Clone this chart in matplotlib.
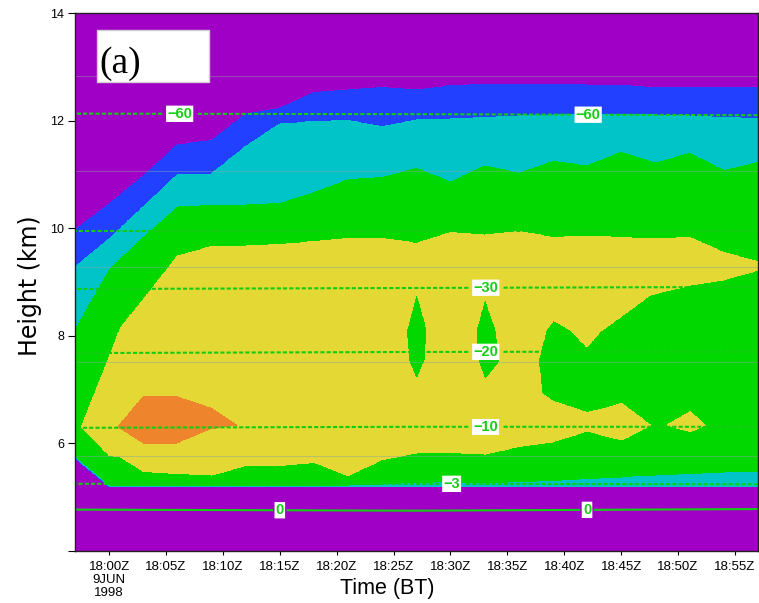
import numpy as np
import matplotlib.pyplot as plt
from matplotlib.patches import Rectangle

# minutes after 18:00Z 9 Jun 1998, 3-minute output
times = np.arange(-3, 58, 3)

# echo column boundaries (km), one value per output time
echo_base = [5.72, 5.19, 5.19, 5.19, 5.19, 5.19, 5.19, 5.19, 5.19, 5.19, 5.19,
             5.19, 5.19, 5.19, 5.19, 5.19, 5.19, 5.19, 5.19, 5.19, 5.19]
cyan_base_top = [5.77, 5.23, 5.23, 5.23, 5.23, 5.23, 5.23, 5.23, 5.23, 5.25, 5.27,
                 5.29, 5.26, 5.29, 5.31, 5.35, 5.38, 5.41, 5.44, 5.47, 5.49]
green_top = [8.11, 9.22, 9.83, 10.39, 10.42, 10.43, 10.46, 10.66, 10.90, 10.94, 11.11,
             10.86, 11.16, 11.02, 11.24, 11.16, 11.41, 11.21, 11.39, 11.07, 11.22]
cyan_top = [9.28, 9.80, 10.40, 10.99, 11.01, 11.52, 11.94, 11.98, 12.00, 11.89, 12.01,
            12.03, 12.06, 12.09, 12.10, 12.12, 12.11, 12.10, 12.09, 12.06, 12.04]
blue_top = [9.97, 10.45, 10.97, 11.55, 11.63, 12.12, 12.23, 12.52, 12.57, 12.62, 12.57,
            12.65, 12.67, 12.68, 12.68, 12.66, 12.65, 12.62, 12.62, 12.62, 12.62]

# yellow core
yel_t = [-2.43, 0, 1, 3, 6, 9, 12, 15, 18, 21, 24, 27, 30, 33, 36, 39, 42, 45.07,
         47.56, 51, 54, 57]
yel_lo = [6.31, 5.78, 5.75, 5.48, 5.44, 5.41, 5.59, 5.59, 5.65, 5.40, 5.70, 5.82,
          5.83, 5.80, 5.94, 6.03, 6.23, 6.06, 6.34, 6.34, 6.34, 6.34]
yel_hi = [6.31, 7.60, 8.15, 8.67, 9.48, 9.66, 9.67, 9.70, 9.75, 9.81, 9.81, 9.72,
          9.92, 9.87, 9.94, 9.83, 9.86, 9.83, 9.80, 9.83, 9.55, 9.38]

# orange maximum
orange_t = [0.79, 3.0, 5.93, 9.0, 11.2]
orange_lo = [6.31, 6.01, 6.01, 6.28, 6.34]
orange_hi = [6.31, 6.87, 6.87, 6.65, 6.34]

# weaker pockets inside the core
hole1_t = [26.16, 26.30, 27.04, 27.77, 27.92]
hole1_lo = [8.11, 7.55, 7.18, 7.55, 8.11]
hole1_hi = [8.11, 8.23, 8.80, 8.25, 8.11]
hole2_t = [32.26, 32.45, 33.04, 34.0, 34.36]
hole2_lo = [8.11, 7.52, 7.18, 7.43, 7.52]
hole2_hi = [8.11, 8.25, 8.70, 8.11, 7.52]

blob_t = [37.73, 38.03, 38.41, 39.05, 40.52, 41.99, 43.16, 45.07, 47.56, 51.08, 54.0, 57.0]
blob_lo = [7.55, 6.93, 6.87, 6.78, 6.68, 6.57, 6.63, 6.74, 6.34, 5.6, 5.6, 5.6]
blob_hi = [7.55, 7.80, 8.11, 8.29, 8.11, 7.79, 8.08, 8.37, 8.76, 8.94, 9.04, 9.22]

patch_t = [49.02, 51.08, 52.39]
patch_lo = [6.34, 6.22, 6.34]
patch_hi = [6.34, 6.59, 6.34]

# isotherm heights (km)
iso_levels = [-60, -40, -30, -20, -10, -3, 0]
iso_times = [-3, 27, 57]
iso_h_early = [12.13, 9.95, 8.87, 7.68, 6.29, 5.25, 4.77]
iso_h_mid = [12.12, 9.95, 8.89, 7.70, 6.31, 5.25, 4.75]
iso_h_late = [12.10, 9.95, 8.91, 7.71, 6.31, 5.24, 4.78]

# model level heights (km)
level_km = [12.83, 11.06, 9.28, 7.52, 5.77]

band_colors = ['#a000c6', '#2140ff', '#00c4c8', '#00d800', '#e4d934', '#ee842c']

tf = np.linspace(-3, 57, 1201)
hf = np.linspace(4, 14, 1001)
H = hf[:, None]
field = np.zeros((hf.size, tf.size))


def paint(t_nodes, lo, hi, value):
    lo_f = np.interp(tf, t_nodes, lo, left=np.nan, right=np.nan)
    hi_f = np.interp(tf, t_nodes, hi, left=np.nan, right=np.nan)
    inside = (H >= lo_f[None, :]) & (H < hi_f[None, :])
    field[inside] = value


base = np.array(echo_base)
paint(times, base, blue_top, 1)
paint(times, base + 0.02, cyan_top, 2)
paint(times, cyan_base_top, green_top, 3)
paint(yel_t, yel_lo, yel_hi, 4)
paint(orange_t, orange_lo, orange_hi, 5)
paint(hole1_t, hole1_lo, hole1_hi, 3)
paint(hole2_t, hole2_lo, hole2_hi, 3)
paint(blob_t, blob_lo, blob_hi, 3)
paint(patch_t, patch_lo, patch_hi, 4)

# temperature field from isotherm heights
hh = np.linspace(4, 14, 401)


def temp_profile(hts):
    h = np.array(hts[::-1])
    T = np.array(iso_levels[::-1], float)
    out = np.interp(hh, h, T)
    s0 = (T[1] - T[0]) / (h[1] - h[0])
    s1 = (T[-1] - T[-2]) / (h[-1] - h[-2])
    out = np.where(hh < h[0], T[0] + s0 * (hh - h[0]), out)
    out = np.where(hh > h[-1], T[-1] + s1 * (hh - h[-1]), out)
    return out


temp = np.column_stack([temp_profile(a) for a in (iso_h_early, iso_h_mid, iso_h_late)])

fig = plt.figure(figsize=(7.59, 6.03), dpi=100)
ax = fig.add_axes([0.0988, 0.0862, 0.8995, 0.8922])
ax.set_facecolor(band_colors[0])

ax.contourf(tf, hf, field, levels=np.arange(-0.5, 6, 1), colors=band_colors)

for y in level_km:
    ax.axhline(y, color='#8aa0a8', alpha=0.45, lw=0.8)

line_green = '#14cc14'
styles = [(0, (2, 1))] * (len(iso_levels) - 1) + ['solid']
cs = ax.contour(iso_times, hh, temp, levels=iso_levels, colors=line_green,
                linewidths=1.5, linestyles=styles)
# label spots; the -40 line stays unlabelled
label_pos = [(6.2, 12.12), (42.1, 12.10), (33.1, 8.90), (33.1, 7.70),
             (33.1, 6.31), (30.1, 5.25), (15.0, 4.76), (42.0, 4.77)]
labels = cs.clabel(manual=label_pos, inline=True, inline_spacing=2,
                   fmt=lambda v: f'{v:.0f}'.replace('-', '\u2212'), fontsize=10.5)
for txt in labels:
    txt.set_fontweight('bold')
    txt.set_family('Liberation Sans')
    txt.set_bbox(dict(boxstyle='square,pad=0.08', fc='white', ec='none'))

# panel tag
ax.add_patch(Rectangle((0.032, 0.872), 0.165, 0.096, transform=ax.transAxes,
                       facecolor='white', edgecolor='#d0d0d0', lw=1, zorder=5))
ax.text(0.035, 0.874, '(a)', transform=ax.transAxes, ha='left', va='bottom',
        family='Liberation Serif', fontsize=27, zorder=6)

ax.set_xlim(-3, 57)
ax.set_ylim(4, 14)

xt = np.arange(0, 56, 5)
ax.set_xticks(xt)
ax.set_xticklabels(['18:00Z\n9JUN\n1998'] + [f'18:{m:02d}Z' for m in xt[1:]],
                   family='Liberation Sans', fontsize=9.5, linespacing=1.1, va='top')
ax.set_yticks([4, 6, 8, 10, 12, 14])
ax.set_yticklabels(['', '6', '8', '10', '12', '14'], family='Liberation Sans', fontsize=9)
ax.tick_params(axis='x', direction='out', length=3, width=0.8, pad=4)
ax.tick_params(axis='y', direction='out', length=5, width=0.8, pad=3)
for sp in ax.spines.values():
    sp.set_linewidth(1.0)
    sp.set_color('#222222')

ax.set_xlabel('Time (BT)', family='Liberation Sans', fontsize=15.5)
ax.xaxis.set_label_coords(0.458, -0.05)
ax.set_ylabel('Height (km)', family='DejaVu Sans', fontsize=17)
ax.yaxis.set_label_coords(-0.049, 0.4935)

fig.savefig('out.png', dpi=100)
